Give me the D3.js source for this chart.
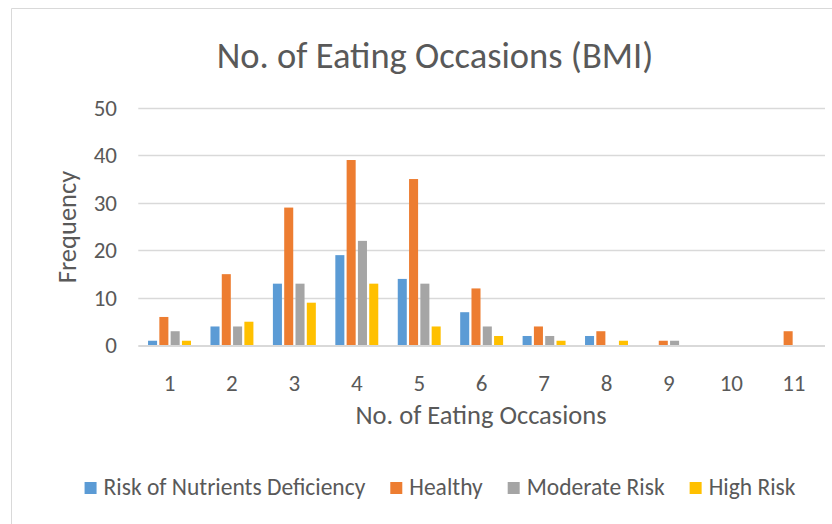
<!DOCTYPE html>
<html>
<head>
<meta charset="utf-8">
<script src="https://cdn.jsdelivr.net/npm/d3@7"></script>
<style>
  html, body { margin: 0; padding: 0; background: #fff; }
  svg text { font-family: Carlito, Calibri, Lato, sans-serif; fill: #595959; }
</style>
</head>
<body>
<svg id="chart" width="832" height="524"></svg>
<script>
// Number of eating occasions per day, grouped by BMI category
const occasions = ["1", "2", "3", "4", "5", "6", "7", "8", "9", "10", "11"];
const seriesNames = ["Risk of Nutrients Deficiency", "Healthy", "Moderate Risk", "High Risk"];
const seriesColors = ["#5B9BD5", "#ED7D31", "#A5A5A5", "#FFC000"];
const riskDeficiency = [1, 4, 13, 19, 14, 7, 2, 2, 0, 0, 0];
const healthy        = [6, 15, 29, 39, 35, 12, 4, 3, 1, 0, 3];
const moderateRisk   = [3, 4, 13, 22, 13, 4, 2, 0, 1, 0, 0];
const highRisk       = [1, 5, 9, 13, 4, 2, 1, 1, 0, 0, 0];
const yTicks = [0, 10, 20, 30, 40, 50];

const seriesValues = [riskDeficiency, healthy, moderateRisk, highRisk];

const svg = d3.select("#chart");
const W = 832, H = 524;
const plot = { left: 138.3, right: 825, top: 107.7, bottom: 345.5 };
const fontStack = "Carlito, Calibri, Lato, sans-serif";

// chart area frame
svg.append("path")
  .attr("d", `M11.5,${H} V8.5 H${W}`)
  .attr("fill", "none").attr("stroke", "#D9D9D9").attr("stroke-width", 1);

// title
svg.append("text")
  .attr("x", 435).attr("y", 68)
  .attr("text-anchor", "middle")
  .attr("font-size", 36.5)
  .text("No. of Eating Occasions (BMI)");

const x = d3.scaleBand().domain(occasions).range([plot.left, plot.right]).paddingInner(0).paddingOuter(0);
const groupWidth = x.bandwidth() * 0.724;
const xs = d3.scaleBand().domain(seriesNames)
  .range([(x.bandwidth() - groupWidth) / 2, (x.bandwidth() + groupWidth) / 2])
  .paddingInner(0.2).paddingOuter(0.1);
const y = d3.scaleLinear().domain([0, 50]).range([plot.bottom, plot.top]);

// horizontal gridlines
svg.append("g").selectAll("line").data(yTicks.filter(d => d > 0)).join("line")
  .attr("x1", plot.left).attr("x2", plot.right)
  .attr("y1", d => Math.round(y(d)) + 0.5).attr("y2", d => Math.round(y(d)) + 0.5)
  .attr("stroke", "#D9D9D9").attr("stroke-width", 1.3);

// y tick labels
const yAxis = d3.axisLeft(y).tickValues(yTicks).tickSize(0).tickPadding(0);
const gy = svg.append("g").attr("transform", `translate(117,0)`).call(yAxis);
gy.select(".domain").remove();
gy.selectAll("text").attr("font-size", 23).attr("fill", "#595959")
  .style("font-family", fontStack);

// bars
const groups = svg.append("g").selectAll("g").data(occasions).join("g")
  .attr("transform", d => `translate(${x(d)},0)`);
groups.selectAll("rect")
  .data((d, i) => seriesNames.map((s, k) => ({ s, k, v: seriesValues[k][i] })))
  .join("rect")
  .attr("x", d => xs(d.s))
  .attr("width", xs.bandwidth())
  .attr("y", d => y(d.v))
  .attr("height", d => y(0) - y(d.v))
  .attr("fill", d => seriesColors[d.k]);

// category axis line
svg.append("line")
  .attr("x1", plot.left).attr("x2", plot.right)
  .attr("y1", plot.bottom + 0.5).attr("y2", plot.bottom + 0.5)
  .attr("stroke", "#D9D9D9").attr("stroke-width", 2);

// x tick labels
const xAxis = d3.axisBottom(x).tickSize(0).tickPadding(0);
const gx = svg.append("g").attr("transform", `translate(0,${plot.bottom})`).call(xAxis);
gx.select(".domain").remove();
gx.selectAll("text").attr("font-size", 23).attr("fill", "#595959")
  .attr("dy", null).attr("y", 45)
  .style("font-family", fontStack);

// axis titles
svg.append("text")
  .attr("x", 481).attr("y", 424)
  .attr("text-anchor", "middle").attr("font-size", 26.5)
  .text("No. of Eating Occasions");
svg.append("text")
  .attr("transform", "translate(76,227) rotate(-90)")
  .attr("text-anchor", "middle").attr("font-size", 26.5)
  .text("Frequency");

// legend, laid out left to right and centred
const legend = svg.append("g");
const items = legend.selectAll("g").data(seriesNames).join("g");
items.append("rect").attr("width", 12).attr("height", 12).attr("y", -13)
  .attr("fill", (d, i) => seriesColors[i]);
items.append("text").attr("x", 19).attr("y", 0).attr("font-size", 23.5).text(d => d);
let cx = 0;
items.each(function () {
  const g = d3.select(this);
  g.attr("transform", `translate(${cx},0)`);
  cx += 19 + g.select("text").node().getComputedTextLength() + 25;
});
const total = cx - 25;
legend.attr("transform", `translate(${440 - total / 2},495)`);
</script>
</body>
</html>
